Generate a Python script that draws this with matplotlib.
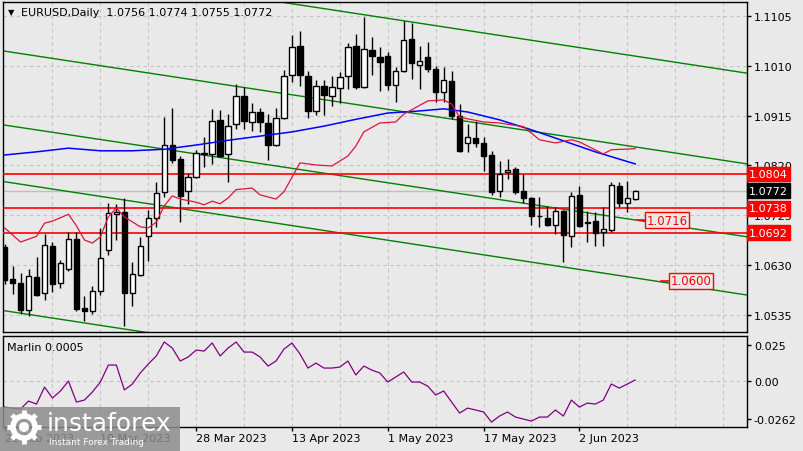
import matplotlib
matplotlib.use("Agg")
import matplotlib.pyplot as plt
from matplotlib.patches import Rectangle, Circle

# EURUSD daily bars, 22 Feb 2023 .. 13 Jun 2023 (bar index 0..79)
opens = [1.0665, 1.0604, 1.0596, 1.0544, 1.0607, 1.0577, 1.0667, 1.0596, 1.0623, 1.0680,
         1.0548, 1.0543, 1.0581, 1.0659, 1.0727, 1.0731, 1.0577, 1.0611, 1.0686, 1.0720,
         1.0769, 1.0859, 1.0832, 1.0771, 1.0798, 1.0842, 1.0842, 1.0907, 1.0842, 1.0899,
         1.0952, 1.0903, 1.0922, 1.0901, 1.0859, 1.0910, 1.0993, 1.1048, 1.0991, 1.0924,
         1.0972, 1.0952, 1.0968, 1.0991, 1.1048, 1.0970, 1.1040, 1.1027, 1.1029, 1.0973,
         1.1000, 1.1061, 1.1012, 1.1027, 1.1004, 1.0960, 1.0981, 1.0914, 1.0863, 1.0872,
         1.0863, 1.0840, 1.0771, 1.0808, 1.0813, 1.0771, 1.0758, 1.0724, 1.0720, 1.0707,
         1.0733, 1.0686, 1.0764, 1.0712, 1.0714, 1.0693, 1.0697, 1.0781, 1.0749, 1.0756]
highs = [1.0670, 1.0628, 1.0615, 1.0623, 1.0645, 1.0689, 1.0674, 1.0640, 1.0693, 1.0693,
         1.0571, 1.0590, 1.0701, 1.0748, 1.0747, 1.0758, 1.0636, 1.0684, 1.0735, 1.0788,
         1.0912, 1.0930, 1.0838, 1.0806, 1.0850, 1.0874, 1.0928, 1.0926, 1.0918, 1.0975,
         1.0970, 1.0939, 1.0930, 1.0918, 1.0930, 1.1002, 1.1069, 1.1076, 1.1000, 1.0983,
         1.0983, 1.0991, 1.0998, 1.1054, 1.1071, 1.1103, 1.1065, 1.1046, 1.1036, 1.1008,
         1.1096, 1.1092, 1.1048, 1.1055, 1.1010, 1.1008, 1.1000, 1.0937, 1.0899, 1.0905,
         1.0874, 1.0848, 1.0829, 1.0832, 1.0817, 1.0804, 1.0760, 1.0760, 1.0743, 1.0741,
         1.0735, 1.0769, 1.0781, 1.0733, 1.0731, 1.0741, 1.0788, 1.0788, 1.0790, 1.0774]
lows = [1.0594, 1.0575, 1.0537, 1.0533, 1.0571, 1.0564, 1.0579, 1.0586, 1.0619, 1.0543,
        1.0523, 1.0537, 1.0573, 1.0649, 1.0678, 1.0514, 1.0552, 1.0609, 1.0638, 1.0703,
        1.0760, 1.0825, 1.0712, 1.0747, 1.0796, 1.0817, 1.0823, 1.0836, 1.0788, 1.0890,
        1.0890, 1.0886, 1.0884, 1.0830, 1.0857, 1.0909, 1.0979, 1.0972, 1.0910, 1.0916,
        1.0916, 1.0933, 1.0939, 1.0966, 1.0966, 1.0968, 1.0993, 1.0962, 1.0964, 1.0941,
        1.0998, 1.0985, 1.0966, 1.0998, 1.0941, 1.0941, 1.0909, 1.0846, 1.0846, 1.0855,
        1.0809, 1.0764, 1.0760, 1.0794, 1.0766, 1.0748, 1.0707, 1.0703, 1.0705, 1.0689,
        1.0636, 1.0665, 1.0703, 1.0674, 1.0667, 1.0667, 1.0693, 1.0741, 1.0731, 1.0755]
closes = [1.0602, 1.0596, 1.0544, 1.0609, 1.0573, 1.0668, 1.0594, 1.0634, 1.0680, 1.0546,
          1.0543, 1.0581, 1.0644, 1.0729, 1.0731, 1.0577, 1.0613, 1.0667, 1.0720, 1.0767,
          1.0859, 1.0830, 1.0762, 1.0798, 1.0844, 1.0844, 1.0905, 1.0838, 1.0895, 1.0952,
          1.0905, 1.0922, 1.0903, 1.0859, 1.0910, 1.0991, 1.1046, 1.0993, 1.0924, 1.0972,
          1.0954, 1.0970, 1.0989, 1.1046, 1.0970, 1.1042, 1.1029, 1.1017, 1.0973, 1.1000,
          1.1059, 1.1015, 1.1019, 1.1004, 1.0960, 1.0983, 1.0914, 1.0848, 1.0874, 1.0863,
          1.0838, 1.0769, 1.0804, 1.0811, 1.0769, 1.0758, 1.0724, 1.0723, 1.0707, 1.0733,
          1.0687, 1.0762, 1.0705, 1.0711, 1.0691, 1.0699, 1.0783, 1.0749, 1.0758, 1.0772]

# moving averages (read at some bars)
blue_idx = [0, 4, 8, 12, 16, 20, 24, 28, 32, 36, 40, 44, 48, 52, 55, 58, 62, 66, 70, 74, 79]
blue_val = [1.0840, 1.0846, 1.0853, 1.0848, 1.0848, 1.0851, 1.0859, 1.0868, 1.0876, 1.0884,
            1.0895, 1.0908, 1.0920, 1.0924, 1.0928, 1.0922, 1.0907, 1.0888, 1.0867, 1.0846, 1.0823]
red_idx = [0, 2, 4, 5, 6, 8, 9, 10, 11, 12, 13, 14, 15, 17, 18, 19, 20, 21, 22, 24, 25, 26,
           27, 28, 29, 31, 32, 34, 35, 37, 39, 41, 43, 44, 45, 47, 49, 50, 53, 55, 56, 57,
           60, 62, 65, 67, 69, 71, 72, 75, 76, 79]
red_val = [1.0701, 1.0674, 1.0685, 1.0710, 1.0714, 1.0727, 1.0705, 1.0678, 1.0672, 1.0684,
           1.0722, 1.0739, 1.0722, 1.0703, 1.0701, 1.0712, 1.0743, 1.0762, 1.0756, 1.0750,
           1.0745, 1.0752, 1.0747, 1.0758, 1.0774, 1.0777, 1.0764, 1.0756, 1.0770, 1.0825,
           1.0821, 1.0819, 1.0838, 1.0857, 1.0884, 1.0901, 1.0903, 1.0918, 1.0943, 1.0945,
           1.0937, 1.0912, 1.0903, 1.0901, 1.0894, 1.0869, 1.0863, 1.0869, 1.0865, 1.0842,
           1.0850, 1.0852]

# trend channel lines: price at bar 0 and at bar 93
chan_start = [1.1212, 1.1038, 1.0897, 1.0789, 1.0543]
chan_end = [1.0996, 1.0823, 1.0684, 1.0573, 1.0327]

levels = [1.0804, 1.0738, 1.0692]
last_price = 1.0772
marks = [(80.4, 1.0716, "1.0716"), (83.4, 1.0600, "1.0600")]

marlin = [-0.0181, -0.0188, -0.0194, -0.0139, -0.0160, -0.0042, -0.0118, -0.0069, 0.0000, -0.0146,
          -0.0132, -0.0076, -0.0007, 0.0111, 0.0111, -0.0062, -0.0021, 0.0056, 0.0118, 0.0174,
          0.0271, 0.0229, 0.0139, 0.0167, 0.0215, 0.0208, 0.0264, 0.0174, 0.0229, 0.0271,
          0.0201, 0.0201, 0.0167, 0.0104, 0.0139, 0.0222, 0.0264, 0.0188, 0.0090, 0.0125,
          0.0090, 0.0090, 0.0097, 0.0139, 0.0042, 0.0104, 0.0076, 0.0056, -0.0007, 0.0028,
          0.0063, -0.0007, -0.0007, -0.0035, -0.0097, -0.0069, -0.0146, -0.0222, -0.0188, -0.0201,
          -0.0215, -0.0285, -0.0243, -0.0215, -0.0250, -0.0264, -0.0278, -0.0250, -0.0250, -0.0201,
          -0.0243, -0.0132, -0.0181, -0.0153, -0.0160, -0.0132, -0.0021, -0.0049, -0.0021, 0.0007]

date_idx = [0, 12, 24, 36, 48, 60, 72]
date_lbl = ["22 Feb 2023", "10 Mar 2023", "28 Mar 2023", "13 Apr 2023",
            "1 May 2023", "17 May 2023", "2 Jun 2023"]
price_ticks = [1.1105, 1.1010, 1.0915, 1.0820, 1.0725, 1.0630, 1.0535]

BG = "#e9e9e9"
GRID = "#c4c4c4"
plt.rcParams["font.family"] = "DejaVu Sans"
plt.rcParams["font.size"] = 8

fig = plt.figure(figsize=(8.04, 4.52), dpi=100, facecolor=BG)
W, H = 804, 452
ax = fig.add_axes([3 / W, 1 - 333 / H, 744 / W, 330 / H], facecolor=BG)
ax2 = fig.add_axes([3 / W, 1 - 428 / H, 744 / W, 91 / H], facecolor=BG)

XMAX = 93
for a in (ax, ax2):
    a.set_xlim(-0.2, XMAX)
    for s in a.spines.values():
        s.set_color("black")
        s.set_linewidth(1)
    for gx in range(6, XMAX, 6):
        a.axvline(gx, color=GRID, lw=0.8, ls=(0, (3, 3)), zorder=0)

ax.set_ylim(1.05025, 1.11317)
for p in price_ticks:
    ax.axhline(p, color=GRID, lw=0.8, ls=(0, (3, 3)), zorder=0)

# channel lines
for a0, a1 in zip(chan_start, chan_end):
    ax.plot([0, XMAX], [a0, a1], color="#008000", lw=1, zorder=2)

ax.axhline(last_price, color="#c0c0c0", lw=1, zorder=1)
for lv in levels:
    ax.axhline(lv, color="#ff0000", lw=1.2, zorder=3)

# candles
n = len(opens)
for i in range(n):
    o, h, l, c = opens[i], highs[i], lows[i], closes[i]
    ax.vlines(i, l, h, color="black", lw=1, zorder=4)
    up = c >= o
    ax.bar(i, max(abs(c - o), 0.00004), bottom=min(o, c), width=0.68,
           color="white" if up else "black", edgecolor="black", linewidth=1, zorder=5)

ax.plot(blue_idx, blue_val, color="#0000ff", lw=1.1, zorder=6)
ax.plot(red_idx, red_val, color="#dc143c", lw=0.9, zorder=6)

for xi, pv, txt in marks:
    ax.plot([xi - 1.2, xi], [pv, pv], color="#ff0000", lw=1.2, zorder=6)
    ax.text(xi, pv, txt, color="#ff0000", fontsize=8.5, ha="left", va="center", zorder=7,
            bbox=dict(boxstyle="square,pad=0.15", fc=BG, ec="#ff0000", lw=1))

ax.yaxis.tick_right()
ax.set_yticks(price_ticks)
ax.set_yticklabels([f"{p:.4f}" for p in price_ticks])
ax.tick_params(axis="y", length=3, width=1, pad=2, labelsize=8)
ax.set_xticks([])

# right side price labels
for lv, fc in [(1.0804, "#ff0000"), (last_price, "black"), (1.0738, "#ff0000"), (1.0692, "#ff0000")]:
    ax.text(1.003, lv, f"{lv:.4f}", transform=ax.get_yaxis_transform(), color="white",
            fontsize=8, ha="left", va="center", zorder=10, clip_on=False,
            bbox=dict(boxstyle="square,pad=0.2", fc=fc, ec=fc))

# indicator window
ax2.plot(range(n), marlin, color="#800080", lw=0.9)
ax2.set_ylim(-0.0319, 0.03125)
ax2.axhline(0, color=GRID, lw=0.8, ls=(0, (3, 3)), zorder=0)
ax2.yaxis.tick_right()
ax2.set_yticks([0.025, 0.0, -0.0262])
ax2.set_yticklabels(["0.025", "0.00", "-0.0262"])
ax2.tick_params(axis="y", length=3, width=1, pad=2, labelsize=8)
ax2.set_xticks(date_idx)
ax2.set_xticklabels(date_lbl, ha="left")
ax2.tick_params(axis="x", length=3, width=1, pad=1, labelsize=8)
ax2.text(0.006, 0.93, "Marlin 0.0005", transform=ax2.transAxes, fontsize=8, va="top", ha="left")

# title
fig.text(8 / W, 1 - 13 / H, "\u25bc", fontsize=6, va="center", ha="left")
fig.text(21 / W, 1 - 13 / H, "EURUSD,Daily  1.0756 1.0774 1.0755 1.0772", fontsize=8,
         va="center", ha="left")

# watermark
ov = fig.add_axes([0, 0, 1, 1], facecolor="none")
ov.set_xlim(0, W)
ov.set_ylim(H, 0)
ov.axis("off")
ov.add_patch(Rectangle((0, 408), 180, 44, fc="#8c8c8c", ec="none", alpha=0.85))
ov.add_patch(Circle((24, 428), 11, fc="none", ec="white", lw=4))
for k in range(8):
    import math
    ang = k * math.pi / 4
    ov.plot([24 + 11 * math.cos(ang), 24 + 17 * math.cos(ang)],
            [428 + 11 * math.sin(ang), 428 + 17 * math.sin(ang)], color="white", lw=3.5,
            solid_capstyle="butt")
ov.add_patch(Circle((24, 428), 5, fc="white", ec="none"))
ov.text(47, 424, "instaforex", color="white", fontsize=18, va="center", ha="left")
ov.text(49, 443, "Instant Forex Trading", color="white", fontsize=6.5, va="center", ha="left")

fig.savefig("out.png", dpi=100, facecolor=BG)
